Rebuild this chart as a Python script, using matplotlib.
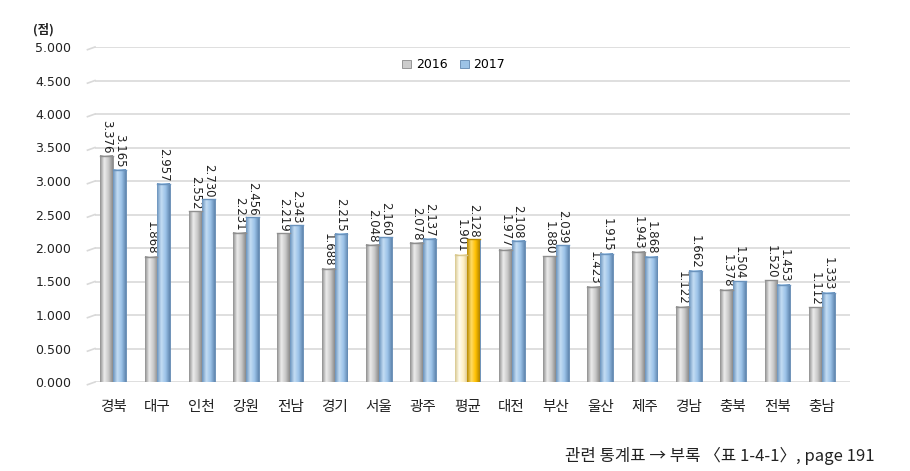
import matplotlib.pyplot as plt
import numpy as np
from matplotlib.colors import LinearSegmentedColormap

plt.rcParams['font.family'] = ['Noto Sans CJK KR', 'DejaVu Sans']

regions = ['경북', '대구', '인천', '강원', '전남', '경기', '서울', '광주', '평균',
           '대전', '부산', '울산', '제주', '경남', '충북', '전북', '충남']
v2016 = [3.376, 1.868, 2.552, 2.231, 2.219, 1.688, 2.048, 2.078, 1.901,
         1.977, 1.880, 1.423, 1.943, 1.122, 1.378, 1.520, 1.112]
v2017 = [3.165, 2.957, 2.730, 2.456, 2.343, 2.215, 2.160, 2.137, 2.128,
         2.108, 2.039, 1.915, 1.868, 1.662, 1.504, 1.453, 1.333]
yticks = [0, 0.5, 1, 1.5, 2, 2.5, 3, 3.5, 4, 4.5, 5]

x = np.arange(len(regions))
w = 0.29
avg = regions.index('평균')
num_font = ['DejaVu Sans']

# cylinder-like shading (edge, highlight, base, edge)
shade = {
    'gray': ['#8f8f8f', '#ececec', '#c8c8c8', '#8a8a8a'],
    'blue': ['#6a93bd', '#c4ddf4', '#9cc3e8', '#6187b0'],
    'ylw': ['#d9c88f', '#fffdf0', '#fff0c4', '#d6c28a'],
    'gold': ['#b88a00', '#ffdc66', '#ffc000', '#b08400'],
}
cmaps = {k: LinearSegmentedColormap.from_list(k, v) for k, v in shade.items()}
grad = np.linspace(0, 1, 64).reshape(1, -1)

fig = plt.figure(figsize=(9.1, 4.71), dpi=100)
ax = fig.add_axes([95 / 910, 89 / 471, 755 / 910, 335 / 471])

b1 = ax.bar(x - w / 2, v2016, w, color='#cccccc', edgecolor='#8a8a8a', lw=0.6, label='2016', zorder=3)
b2 = ax.bar(x + w / 2, v2017, w, color='#9dc3e6', edgecolor='#6187b0', lw=0.6, label='2017', zorder=3)

for i, (p1, p2) in enumerate(zip(b1, b2)):
    k1, k2 = ('ylw', 'gold') if i == avg else ('gray', 'blue')
    for p, k in ((p1, k1), (p2, k2)):
        x0, h, bw = p.get_x(), p.get_height(), p.get_width()
        ax.imshow(grad, extent=[x0, x0 + bw, 0, h], aspect='auto', cmap=cmaps[k],
                  zorder=3.5, interpolation='bilinear')
        ax.plot([x0, x0 + bw], [h, h], color=shade[k][0], lw=1.0, zorder=4)

# data labels, rotated
for xi, v in zip(x, v2016):
    ax.text(xi - w / 2, v + 0.03, f'{v:.3f}', rotation=-90, ha='center', va='bottom',
            fontsize=8.5, color='#222222', family=num_font)
for xi, v in zip(x, v2017):
    ax.text(xi + w / 2, v + 0.03, f'{v:.3f}', rotation=-90, ha='center', va='bottom',
            fontsize=8.5, color='#222222', family=num_font)

ax.set_ylim(0, 5)
ax.set_xlim(-0.41, 16.64)
ax.set_yticks(yticks)
ax.set_yticklabels([f'{t:.3f}' for t in yticks], fontsize=9, color='#222222', family=num_font)
ax.set_xticks(x)
ax.set_xticklabels(regions, fontsize=10.5, color='#222222')
ax.tick_params(axis='y', length=0, pad=17)
ax.tick_params(axis='x', length=0, pad=13)
ax.grid(axis='y', color='#d9d9d9', lw=1.2, zorder=0)
for s in ax.spines.values():
    s.set_visible(False)

# slanted 3D floor ends of gridlines
for t in yticks:
    ax.plot([-0.58, -0.41], [t - 0.04, t], color='#d9d9d9', lw=1.2, clip_on=False, zorder=0)

ax.legend(handles=[b1[0], b2[0]], labels=['2016', '2017'], loc='upper center',
          bbox_to_anchor=(0.475, 1.0), ncol=2, frameon=False,
          prop={'family': num_font, 'size': 9},
          handlelength=0.7, handleheight=0.7, handletextpad=0.4, columnspacing=1.0)

fig.text(33 / 910, 1 - 30 / 471, '(점)', fontsize=9, fontweight='bold', va='center', color='#222222')
fig.text(875 / 910, 1 - 456 / 471, '관련 통계표 → 부록 〈표 1-4-1〉, page 191', fontsize=12,
         style='italic', ha='right', va='center', color='#222222')

fig.savefig('out.png', dpi=100)
